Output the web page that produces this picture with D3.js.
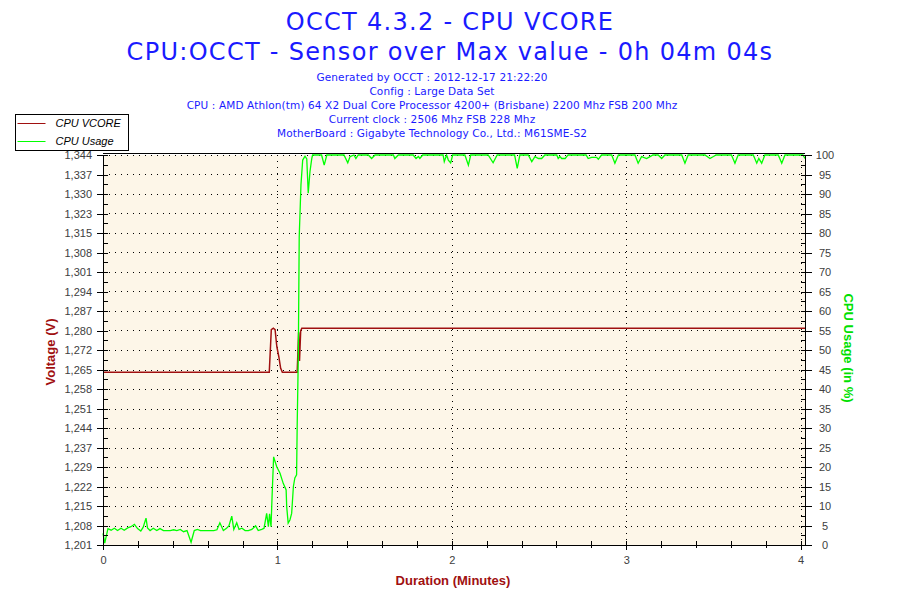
<!DOCTYPE html>
<html lang="en">
<head>
  <meta charset="UTF-8" />
  <title>OCCT 4.3.2 - CPU VCORE</title>
  <script src="https://d3js.org/d3.v7.min.js"></script>
  <style>
    body { margin: 0; background: white; }
    svg { display: block; }
    .tick text { font-family: "Liberation Sans", sans-serif; font-size: 11px; fill: #404040; }
    .axis path, .axis line { stroke: black; shape-rendering: crispEdges; }
  </style>
</head>
<body>
<svg width="900" height="600"></svg>
<script>
  // chart text
  const titleLines = ["OCCT 4.3.2 - CPU VCORE", "CPU:OCCT - Sensor over Max value - 0h 04m 04s"];
  const infoLines = [
    "Generated by OCCT : 2012-12-17 21:22:20",
    "Config : Large Data Set",
    "CPU : AMD Athlon(tm) 64 X2 Dual Core Processor 4200+ (Brisbane) 2200 Mhz FSB 200 Mhz",
    "Current clock : 2506 Mhz FSB 228 Mhz",
    "MotherBoard : Gigabyte Technology Co., Ltd.: M61SME-S2"
  ];
  const seriesNames = ["CPU VCORE", "CPU Usage"];

  // tick labels
  const voltTickLabels = ["1,201", "1,208", "1,215", "1,222", "1,229", "1,237", "1,244", "1,251", "1,258", "1,265",
    "1,272", "1,280", "1,287", "1,294", "1,301", "1,308", "1,315", "1,323", "1,330", "1,337", "1,344"];
  const usageTicks = [0, 5, 10, 15, 20, 25, 30, 35, 40, 45, 50, 55, 60, 65, 70, 75, 80, 85, 90, 95, 100];
  const minuteTicks = [0, 1, 2, 3, 4];

  // [seconds, volts]
  const vcoreData = [[0, 1.2643], [57.2, 1.2643], [57.9, 1.2800], [58.6, 1.2805], [59.2, 1.2800], [59.8, 1.2737],
    [60.5, 1.2700], [61.1, 1.2659], [61.7, 1.2643], [66.8, 1.2643], [67.3, 1.2790], [67.6, 1.2685], [68.0, 1.2795],
    [68.4, 1.2805], [241.5, 1.2805]];

  // [seconds, % usage]
  const usageData = [[0, 3.0], [0.6, 0.5], [1.7, 4.2], [2.8, 3.8], [3.9, 4.3], [5.0, 3.7], [6.2, 4.3], [7.3, 3.8],
    [8.5, 4.4], [9.6, 4.7], [10.8, 5.3], [11.9, 4.2], [13.0, 3.6], [13.8, 4.5], [14.8, 6.9], [15.3, 4.4], [16.2, 3.7],
    [17.3, 4.3], [18.5, 3.7], [19.6, 4.2], [20.8, 3.7], [22.0, 3.7], [23.1, 3.7], [24.3, 3.9], [25.4, 3.7],
    [26.6, 4.0], [27.7, 3.4], [28.9, 3.7], [30.3, 0.7], [31.4, 3.7], [32.5, 4.0], [33.5, 3.7], [34.6, 3.7],
    [35.8, 3.7], [36.9, 3.7], [38.1, 3.7], [39.2, 3.9], [40.2, 5.7], [41.4, 3.7], [42.5, 4.3], [43.3, 4.9],
    [44.3, 7.4], [45.0, 4.0], [46.0, 5.7], [46.8, 4.0], [47.8, 4.3], [48.9, 3.7], [50.0, 3.7], [51.2, 4.0],
    [52.5, 4.9], [53.4, 3.7], [54.6, 4.0], [55.4, 4.3], [56.3, 8.1], [56.9, 4.7], [57.3, 8.0], [57.8, 4.7],
    [58.2, 13.2], [58.7, 22.6], [59.8, 20.0], [60.9, 18.4], [62.0, 15.8], [63.0, 14.1], [63.2, 9.8], [63.7, 5.6],
    [64.3, 6.4], [64.9, 8.1], [65.5, 15.0], [66.0, 17.2], [66.6, 18.0], [66.8, 30.3], [67.2, 49], [67.5, 79],
    [68.1, 92.3], [68.7, 98.7], [69.5, 99.7], [70.1, 99], [70.6, 90.2], [71.2, 95.7], [71.8, 99], [72.1, 100],
    [75.2, 100], [76.1, 97.4], [77, 100], [82.9, 100], [84.2, 98.0], [85, 99.6], [86.3, 100], [87, 99.1],
    [87.8, 100], [91.3, 100], [92.4, 99.1], [93.6, 100], [99.9, 100], [100.4, 99.1], [101.6, 100], [106.7, 100],
    [107.7, 99.1], [108.5, 99.6], [109, 99.1], [110, 100], [117, 100], [117.4, 98.3], [118.2, 100], [118.8, 98.7],
    [119.6, 98.0], [120.3, 100], [124.5, 100], [125.7, 97.4], [126.5, 100], [132.5, 100], [134.2, 98],
    [135.6, 100], [141.6, 100], [142.5, 96.6], [143.4, 100], [146.3, 100], [147.5, 98.3], [148.6, 99.6],
    [149.8, 99.1], [150.9, 99.1], [152, 100], [156.1, 100], [156.6, 99.1], [157.2, 99.6], [157.8, 99.1],
    [159, 99.1], [159.5, 99.6], [160, 100], [166.2, 100], [166.9, 99.1], [168.1, 99.4], [169.8, 99.4],
    [170.4, 98.9], [171.5, 100], [175, 100], [176.1, 97.9], [177.3, 100], [183, 100], [184.1, 97.9],
    [185.3, 99.6], [187, 99.1], [188.2, 99.6], [189.2, 100], [191, 100], [192.2, 99.1], [193.3, 100],
    [199.1, 100], [200.2, 97.9], [201.3, 100], [207.1, 100], [208.8, 99.1], [210, 99.6], [210.9, 100],
    [216.2, 100], [217.4, 97.9], [218.5, 100], [223.7, 100], [224.9, 97.9], [225.6, 99.1], [226.6, 97.9],
    [227.7, 100], [232.3, 100], [233.5, 97.9], [234.6, 100], [240.8, 100], [241.5, 99.1]];

  const svg = d3.select("svg");
  const pLeft = 103, pRight = 805, pTop = 155, pBottom = 545;
  const red = "#a01010", green = "#00ff00", blue = "#1a1aff";

  const x = d3.scaleLinear().domain([0, 4.025]).range([pLeft, pRight]);
  const yV = d3.scaleLinear().domain([1.201, 1.344]).range([pBottom, pTop]);
  const yU = d3.scaleLinear().domain([0, 100]).range([pBottom, pTop]);

  const voltStep = (1.344 - 1.201) / 20;
  const voltVals = voltTickLabels.map((d, i) => 1.201 + i * voltStep);
  const voltHalf = d3.range(0, 41).map(i => 1.201 + i * voltStep / 2);

  // titles
  svg.selectAll(".title")
    .data(titleLines)
    .enter()
    .append("text")
    .attr("x", 450)
    .attr("y", (d, i) => 30 + i * 30)
    .attr("text-anchor", "middle")
    .style("font-family", "DejaVu Sans, Verdana, sans-serif")
    .style("font-size", "24px")
    .style("letter-spacing", "1.3px")
    .style("fill", blue)
    .text(d => d);

  svg.selectAll(".info")
    .data(infoLines)
    .enter()
    .append("text")
    .attr("x", 432)
    .attr("y", (d, i) => 81 + i * 14)
    .attr("text-anchor", "middle")
    .style("font-family", "DejaVu Sans, Verdana, sans-serif")
    .style("font-size", "10.5px")
    .style("letter-spacing", "0.12px")
    .style("fill", blue)
    .text(d => d);

  // plot background
  svg.append("rect")
    .attr("x", pLeft).attr("y", pTop)
    .attr("width", pRight - pLeft).attr("height", pBottom - pTop)
    .attr("fill", "#fdf6e8");

  // dotted grid
  svg.append("g").selectAll("line")
    .data(voltVals)
    .enter()
    .append("line")
    .attr("x1", pLeft).attr("x2", pRight)
    .attr("y1", d => Math.round(yV(d)) + 0.5).attr("y2", d => Math.round(yV(d)) + 0.5)
    .attr("stroke", "black")
    .attr("stroke-dasharray", "1,5");

  svg.append("g").selectAll("line")
    .data(minuteTicks.slice(1))
    .enter()
    .append("line")
    .attr("x1", d => Math.round(x(d)) + 0.5).attr("x2", d => Math.round(x(d)) + 0.5)
    .attr("y1", pTop).attr("y2", pBottom)
    .attr("stroke", "black")
    .attr("stroke-dasharray", "1,5");

  // series
  const vLine = d3.line().x(d => x(d[0] / 60)).y(d => yV(d[1]));
  const uLine = d3.line().x(d => x(d[0] / 60)).y(d => yU(d[1]));

  svg.append("path")
    .datum(vcoreData)
    .attr("d", vLine)
    .attr("fill", "none")
    .attr("stroke", red)
    .attr("stroke-width", 1.5);

  svg.append("path")
    .datum(usageData)
    .attr("d", uLine)
    .attr("fill", "none")
    .attr("stroke", green)
    .attr("stroke-width", 1.3);

  // frame top
  svg.append("line")
    .attr("x1", pLeft).attr("x2", pRight)
    .attr("y1", pTop - 1.5).attr("y2", pTop - 1.5)
    .attr("stroke", "black");

  // left axis
  svg.append("g").attr("class", "axis")
    .attr("transform", `translate(${pLeft},0)`)
    .call(d3.axisLeft(yV).tickValues(voltVals).tickFormat((d, i) => voltTickLabels[i])
      .tickSize(6).tickSizeOuter(0).tickPadding(5));
  svg.append("g").attr("class", "axis")
    .attr("transform", `translate(${pLeft},0)`)
    .call(d3.axisRight(yV).tickValues(voltHalf).tickFormat("").tickSize(5).tickSizeOuter(0));

  // right axis
  const rightAxis = svg.append("g").attr("class", "axis")
    .attr("transform", `translate(${pRight},0)`)
    .call(d3.axisRight(yU).tickValues(usageTicks).tickSize(7).tickSizeOuter(0));
  rightAxis.selectAll("text").attr("x", 20).attr("text-anchor", "middle");
  svg.append("g").attr("class", "axis")
    .attr("transform", `translate(${pRight},0)`)
    .call(d3.axisLeft(yU).tickValues(d3.range(0, 100.1, 2.5)).tickFormat("").tickSize(4).tickSizeOuter(0));

  // bottom axis
  svg.append("g").attr("class", "axis")
    .attr("transform", `translate(0,${pBottom})`)
    .call(d3.axisBottom(x).tickValues(minuteTicks).tickFormat(d3.format("d"))
      .tickSize(5).tickSizeOuter(0).tickPadding(6));
  svg.append("g").attr("class", "axis")
    .attr("transform", `translate(0,${pBottom})`)
    .call(d3.axisTop(x).tickValues(d3.range(0, 4.01, 0.2)).tickFormat("").tickSize(4).tickSizeOuter(0));
  svg.append("g").attr("class", "axis")
    .attr("transform", `translate(0,${pBottom})`)
    .call(d3.axisBottom(x).tickValues(d3.range(0, 4.01, 0.2)).tickFormat("").tickSize(3).tickSizeOuter(0));
  svg.append("line")
    .attr("x1", pRight).attr("x2", 812)
    .attr("y1", pBottom + 0.5).attr("y2", pBottom + 0.5)
    .attr("stroke", "black");

  // axis titles
  svg.append("text")
    .attr("transform", "translate(55,352) rotate(-90)")
    .attr("text-anchor", "middle")
    .style("font-family", "Liberation Sans, sans-serif")
    .style("font-size", "13px")
    .style("font-weight", "bold")
    .style("fill", red)
    .text("Voltage (V)");

  svg.append("text")
    .attr("transform", "translate(844,348) rotate(90)")
    .attr("text-anchor", "middle")
    .style("font-family", "Liberation Sans, sans-serif")
    .style("font-size", "13px")
    .style("font-weight", "bold")
    .style("fill", "#00e000")
    .text("CPU Usage (in %)");

  svg.append("text")
    .attr("x", 453).attr("y", 585)
    .attr("text-anchor", "middle")
    .style("font-family", "Liberation Sans, sans-serif")
    .style("font-size", "13px")
    .style("font-weight", "bold")
    .style("fill", red)
    .text("Duration (Minutes)");

  // legend
  const legend = svg.append("g").attr("transform", "translate(15.5,114.5)");
  legend.append("rect")
    .attr("width", 113).attr("height", 36)
    .attr("fill", "white").attr("stroke", "black");
  const legendColors = [red, green];
  legend.selectAll("line.key")
    .data(seriesNames)
    .enter()
    .append("line")
    .attr("x1", 2).attr("x2", 30)
    .attr("y1", (d, i) => 9 + i * 18).attr("y2", (d, i) => 9 + i * 18)
    .attr("stroke", (d, i) => legendColors[i]);
  legend.selectAll("text")
    .data(seriesNames)
    .enter()
    .append("text")
    .attr("x", 40)
    .attr("y", (d, i) => 12.5 + i * 18)
    .style("font-family", "Liberation Sans, sans-serif")
    .style("font-size", "11px")
    .style("font-style", "italic")
    .text(d => d);
</script>
</body>
</html>
